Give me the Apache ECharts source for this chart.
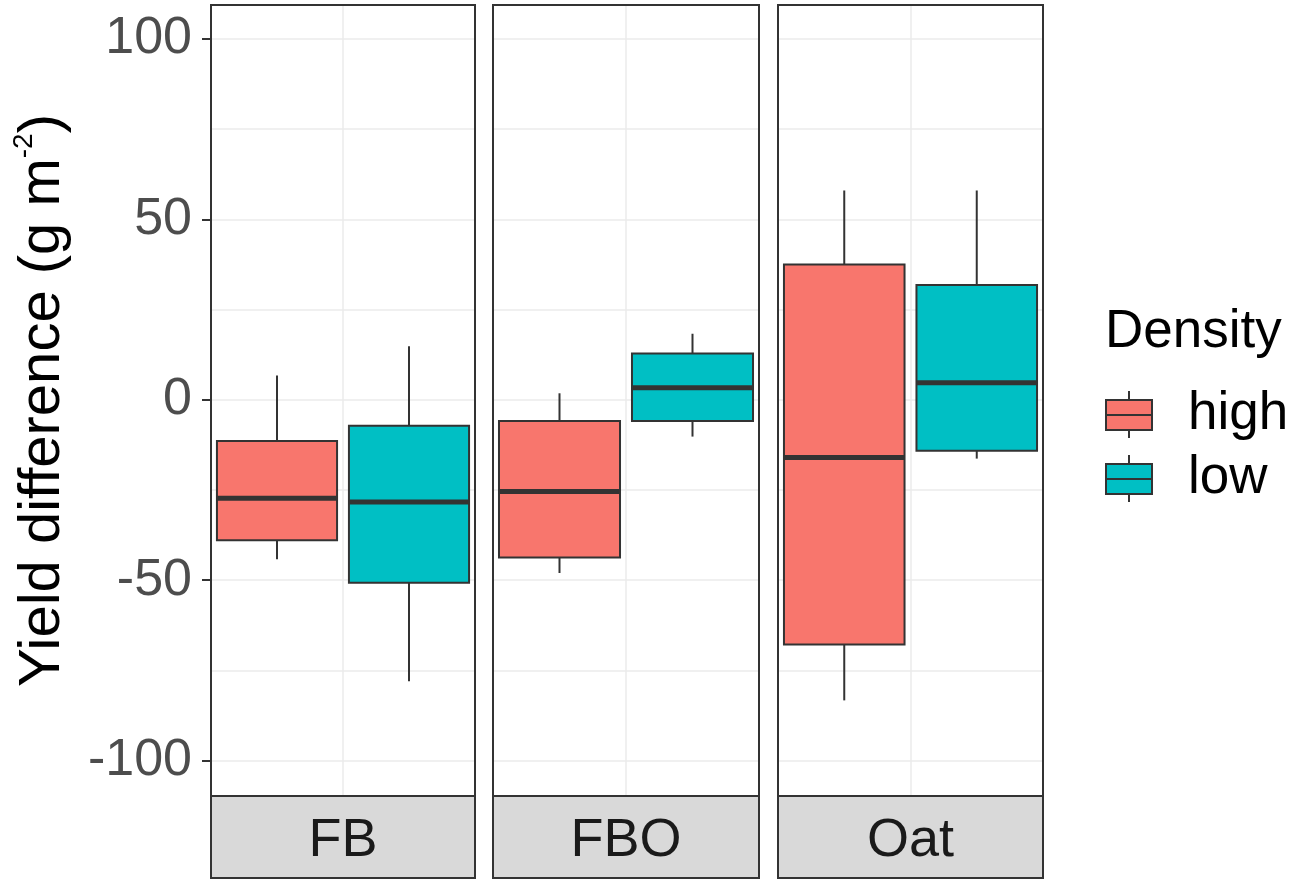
<!DOCTYPE html>
<html>
<head>
<meta charset="utf-8">
<script src="https://cdn.jsdelivr.net/npm/echarts@6/dist/echarts.min.js"></script>
<style>
html, body { margin: 0; padding: 0; background: #fff; }
#chart { width: 1299px; height: 886px; }
</style>
</head>
<body>
<div id="chart"></div>
<script>
var panels = ['FB', 'FBO', 'Oat'];
var densities = ['high', 'low'];
// [min, Q1, median, Q3, max] for each panel
var highStats = [
    [-44.2, -38.9, -27.3, -11.4, 6.7],
    [-48.0, -43.7, -25.4, -5.9, 1.8],
    [-83.3, -67.8, -16.0, 37.5, 58.0]
];
var lowStats = [
    [-78.0, -50.7, -28.3, -7.2, 14.8],
    [-10.2, -5.9, 3.3, 12.8, 18.3],
    [-16.3, -14.1, 4.7, 31.8, 58.0]
];
var majorTicks = [-100, -50, 0, 50, 100];
var gridTicks = [-100, -75, -50, -25, 0, 25, 50, 75, 100];
var fills = ['#F8766D', '#00BFC4'];

var panelLeft = [211, 493, 778];
var panelWidth = [264, 266, 265];
var panelTop = 5, panelHeight = 791, stripHeight = 82;
var yMin = -109.8, yMax = 109.4;
var font = 'Liberation Sans';
var keyIcon = 'path://M23,0L23,9M0,9L46,9L46,39L0,39ZM0,24L46,24M23,39L23,47';

function renderBox(params, api) {
    var cat = api.value(0);
    var lo = api.coord([cat, api.value(1)]);
    var q1 = api.coord([cat, api.value(2)]);
    var md = api.coord([cat, api.value(3)]);
    var q3 = api.coord([cat, api.value(4)]);
    var hi = api.coord([cat, api.value(5)]);
    var w = api.size([1, 0])[0] * 0.91;
    var cx = md[0];
    var line = { stroke: '#333', lineWidth: 2 };
    return {
        type: 'group',
        children: [
            { type: 'line', shape: { x1: cx, y1: hi[1], x2: cx, y2: q3[1] }, style: line },
            { type: 'line', shape: { x1: cx, y1: q1[1], x2: cx, y2: lo[1] }, style: line },
            { type: 'rect', shape: { x: cx - w / 2, y: q3[1], width: w, height: q1[1] - q3[1] },
              style: { fill: api.visual('color'), stroke: '#333', lineWidth: 2 } },
            { type: 'line', shape: { x1: cx - w / 2, y1: md[1], x2: cx + w / 2, y2: md[1] },
              style: { stroke: '#333', lineWidth: 5 } }
        ]
    };
}

var grids = [], xAxes = [], yAxes = [], series = [], graphics = [];

yAxes.push({
    gridIndex: 0, type: 'value', min: yMin, max: yMax,
    axisLine: { show: false },
    axisTick: { show: true, length: 9, customValues: majorTicks, lineStyle: { color: '#333', width: 2 } },
    axisLabel: { customValues: majorTicks, fontFamily: font, fontSize: 52, color: '#4D4D4D', margin: 19, padding: [8, 0, 0, 0] },
    splitLine: { show: false },
    name: '{t|Yield difference (g m}{s|-2}{t|)}',
    nameLocation: 'middle', nameGap: 135, nameRotate: 90,
    nameTextStyle: {
        fontFamily: font, fontSize: 58, color: '#000',
        rich: {
            t: { fontFamily: font, fontSize: 58, color: '#000', lineHeight: 66 },
            s: { fontFamily: font, fontSize: 28, color: '#000', lineHeight: 36, verticalAlign: 'top' }
        }
    }
});

panels.forEach(function (p, i) {
    grids.push({ left: panelLeft[i], top: panelTop, width: panelWidth[i], height: panelHeight, containLabel: false });
    xAxes.push({
        gridIndex: i, type: 'category', data: densities, boundaryGap: true,
        axisLine: { show: false }, axisTick: { show: false }, axisLabel: { show: false },
        splitLine: { show: true, interval: 0, lineStyle: { color: '#EBEBEB', width: 1.5 } }
    });
    yAxes.push({
        gridIndex: i, type: 'value', min: yMin, max: yMax,
        axisLine: { show: false },
        axisTick: { show: false, customValues: gridTicks },
        axisLabel: { show: false },
        splitLine: { show: true, lineStyle: { color: '#EBEBEB', width: 1.5 } }
    });
    [highStats, lowStats].forEach(function (stats, d) {
        series.push({
            type: 'custom', name: densities[d],
            xAxisIndex: i, yAxisIndex: i + 1,
            data: [[d].concat(stats[i])],
            encode: { x: 0, y: [1, 2, 3, 4, 5] },
            itemStyle: { color: fills[d] },
            renderItem: renderBox,
            silent: true, z: 3
        });
    });
    graphics.push({
        type: 'rect', z: 100, silent: true,
        shape: { x: panelLeft[i], y: panelTop, width: panelWidth[i], height: panelHeight },
        style: { fill: 'none', stroke: '#333', lineWidth: 2 }
    });
    graphics.push({
        type: 'rect', z: 100, silent: true,
        shape: { x: panelLeft[i], y: panelTop + panelHeight, width: panelWidth[i], height: stripHeight },
        style: { fill: '#D9D9D9', stroke: '#333', lineWidth: 2 }
    });
    graphics.push({
        type: 'text', z: 101, silent: true,
        x: panelLeft[i] + panelWidth[i] / 2, y: panelTop + panelHeight + stripHeight / 2 + 4,
        style: { text: p, font: '54px "Liberation Sans"', fill: '#1A1A1A', textAlign: 'center', textVerticalAlign: 'middle' }
    });
});

var chart = echarts.init(document.getElementById('chart'));
chart.setOption({
    animation: false,
    backgroundColor: '#fff',
    title: {
        text: 'Density', left: 1105, top: 306, padding: 0,
        textStyle: { fontFamily: font, fontSize: 53, fontWeight: 'normal', color: '#000' }
    },
    legend: {
        orient: 'vertical', left: 1105, top: 388, padding: 0,
        itemWidth: 46, itemHeight: 47, itemGap: 11,
        data: densities, icon: keyIcon, selectedMode: false,
        itemStyle: { borderColor: '#333', borderWidth: 2 },
        textStyle: { fontFamily: font, fontSize: 53, color: '#000', padding: [0, 0, 0, 31] }
    },
    grid: grids,
    xAxis: xAxes,
    yAxis: yAxes,
    series: series,
    graphic: graphics
});
</script>
</body>
</html>
